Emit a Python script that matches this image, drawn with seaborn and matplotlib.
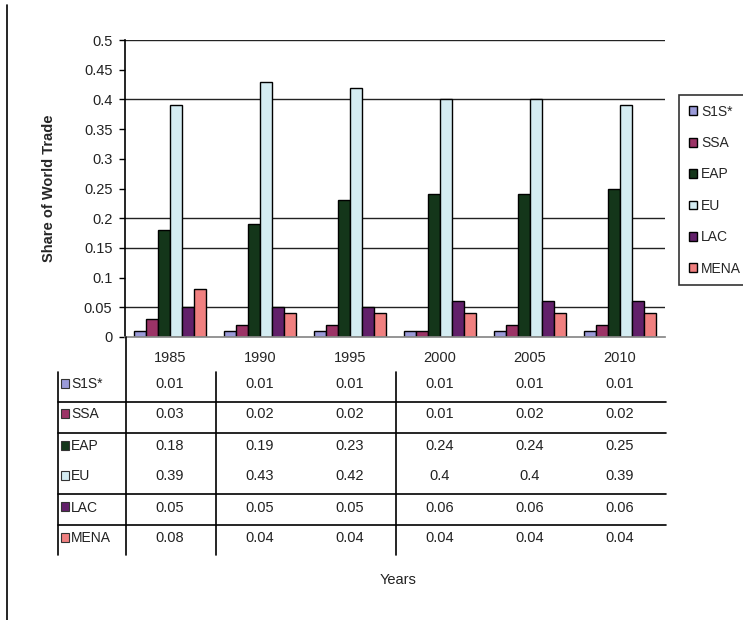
import matplotlib
matplotlib.use("Agg")
import matplotlib.pyplot as plt
import matplotlib.transforms as mtransforms
from matplotlib.lines import Line2D
from matplotlib.patches import Rectangle
import seaborn as sns
import pandas as pd

years = ["1985", "1990", "1995", "2000", "2005", "2010"]
regions = ["S1S*", "SSA", "EAP", "EU", "LAC", "MENA"]
s1s = [0.01, 0.01, 0.01, 0.01, 0.01, 0.01]
ssa = [0.03, 0.02, 0.02, 0.01, 0.02, 0.02]
eap = [0.18, 0.19, 0.23, 0.24, 0.24, 0.25]
eu = [0.39, 0.43, 0.42, 0.4, 0.4, 0.39]
lac = [0.05, 0.05, 0.05, 0.06, 0.06, 0.06]
mena = [0.08, 0.04, 0.04, 0.04, 0.04, 0.04]
colors = ["#9A9AD8", "#9B3366", "#14361A", "#D4ECF2", "#62206A", "#F08080"]
yticks = [0, 0.05, 0.1, 0.15, 0.2, 0.25, 0.3, 0.35, 0.4, 0.45, 0.5]
ytick_labels = ["0", "0.05", "0.1", "0.15", "0.2", "0.25", "0.3", "0.35", "0.4", "0.45", "0.5"]
grid_levels = [0.05, 0.15, 0.2, 0.4, 0.5]

series = [s1s, ssa, eap, eu, lac, mena]
rows = []
for r, vals in zip(regions, series):
    for y, v in zip(years, vals):
        rows.append({"Year": y, "Region": r, "Share": v})
df = pd.DataFrame(rows)

sns.set_theme(style="white")
plt.rcParams["font.family"] = ["Liberation Sans", "DejaVu Sans"]

W, H = 743, 620
fig = plt.figure(figsize=(W / 100, H / 100), dpi=100)
ax = fig.add_axes([125 / W, 1 - 337 / H, 540 / W, 297 / H])

sns.barplot(data=df, x="Year", y="Share", hue="Region", order=years,
            hue_order=regions, palette=colors, width=0.8, edgecolor="black",
            linewidth=1.0, saturation=1, ax=ax, legend=True)

ax.set_ylim(0, 0.5)
ax.set_xlim(-0.5, len(years) - 0.5)
ax.set_yticks(yticks)
ax.set_yticklabels(ytick_labels, fontsize=10.5, color="#222222")
ax.tick_params(axis="y", length=4, width=1, color="black", left=True, pad=5)
ax.tick_params(axis="x", length=0, pad=10, labelsize=10.5)
for g in grid_levels:
    ax.axhline(g, color="#222222", lw=1, zorder=0)
ax.set_xlabel("")
ax.set_ylabel("Share of World Trade", fontsize=10.5, fontweight="bold", labelpad=20)
for s in ["top", "right"]:
    ax.spines[s].set_visible(False)
ax.spines["left"].set_color("black")
ax.spines["left"].set_linewidth(1.2)
ax.spines["bottom"].set_color("#888888")

leg = ax.legend(loc="upper left", bbox_to_anchor=(679 / W, 1 - 95 / H),
                bbox_transform=fig.transFigure, frameon=True, fancybox=False,
                fontsize=10, handlelength=0.6, handleheight=0.6, handletextpad=0.3,
                labelspacing=1.25, borderpad=0.7, borderaxespad=0)
leg.get_frame().set_edgecolor("black")
leg.get_frame().set_linewidth(1.2)

# data table below the chart
trans = mtransforms.blended_transform_factory(ax.transData, fig.transFigure)
row_y = [383, 413, 445, 475, 506, 537]
for i, (r, vals, c) in enumerate(zip(regions, series, colors)):
    yf = 1 - row_y[i] / H
    fig.patches.append(Rectangle((61 / W, yf - 4.5 / H), 8 / W, 9 / H,
                                 transform=fig.transFigure, facecolor=c,
                                 edgecolor="#333333", lw=0.8))
    fig.text(71 / W, yf, r, fontsize=10, va="center_baseline", ha="left", color="#222222")
    for j, v in enumerate(vals):
        fig.text(j, yf, f"{v:g}", transform=trans, fontsize=10.5,
                 va="center_baseline", ha="center", color="#222222")

def fline(x0, y0, x1, y1, **kw):
    fig.lines.append(Line2D([x0 / W, x1 / W], [1 - y0 / H, 1 - y1 / H],
                            transform=fig.transFigure, color="black", lw=1.2, **kw))

for yl in [402, 433, 494, 525]:
    fline(58, yl, 666, yl)
fline(58, 372, 58, 555)
fline(126, 337, 126, 555)
fline(216, 372, 216, 555)
fline(396, 372, 396, 555)
fline(7, 5, 7, 620)

fig.text(398 / W, 1 - 580 / H, "Years", fontsize=10.5, ha="center", va="center", color="#222222")

fig.savefig("out.png", dpi=100, facecolor="white")
